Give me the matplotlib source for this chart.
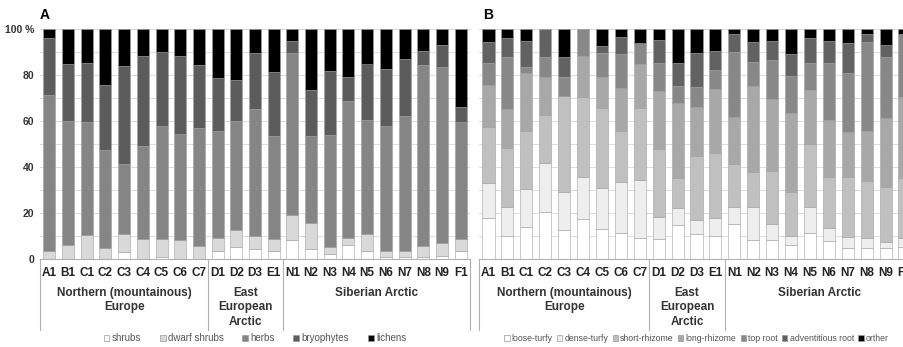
import numpy as np
import matplotlib.pyplot as plt
import matplotlib.transforms as mtransforms
from matplotlib.patches import Patch

plt.rcParams['font.family'] = ['Liberation Sans', 'DejaVu Sans']

sites = ["A1", "B1", "C1", "C2", "C3", "C4", "C5", "C6", "C7",
         "D1", "D2", "D3", "E1",
         "N1", "N2", "N3", "N4", "N5", "N6", "N7", "N8", "N9", "F1"]
groups = ["Northern (mountainous)\nEurope", "East\nEuropean\nArctic", "Siberian Arctic"]
group_sizes = [9, 4, 10]

# panel A: life forms (%)
lf_names = ["shrubs", "dwarf shrubs", "herbs", "bryophytes", "lichens"]
shrubs = [0, 0, 0, 0, 3.2, 0, 1.0, 0, 0, 3.6, 5.1, 4.4, 3.3,
          8.4, 4.4, 2.2, 6.2, 3.6, 1.0, 1.0, 0.7, 1.5, 3.6]
dwarf_shrubs = [3.6, 6.2, 10.5, 4.7, 7.7, 8.7, 7.7, 8.1, 5.8, 5.4, 7.5, 5.8, 5.4,
                10.9, 11.2, 2.9, 3.0, 7.3, 2.6, 2.6, 5.0, 5.3, 5.1]
herbs = [67.9, 53.8, 49.1, 42.5, 30.2, 40.3, 49.0, 46.1, 51.3, 46.7, 47.3, 54.8, 44.6,
         70.1, 37.7, 48.7, 59.4, 49.4, 54.1, 58.5, 78.6, 76.8, 50.9]
bryophytes = [24.5, 24.6, 25.7, 28.4, 42.8, 39.4, 32.1, 34.0, 27.1, 23.2, 17.9, 24.7, 28.1,
              5.5, 20.1, 27.9, 10.6, 24.7, 25.1, 24.7, 6.1, 9.4, 6.4]
lichens = [4.0, 15.4, 14.7, 24.4, 16.1, 11.6, 10.2, 11.8, 15.8, 21.1, 22.2, 10.3, 18.6,
           5.1, 26.6, 18.3, 20.8, 15.0, 17.2, 13.2, 9.6, 7.0, 34.0]

# panel B: root / tillering types (%)
rt_names = ["loose-turfy", "dense-turfy", "short-rhizome", "long-rhizome",
            "top root", "adventitious root", "orther"]
loose_turfy = [18.0, 10.1, 14.1, 20.6, 12.4, 17.2, 13.0, 11.2, 9.0, 8.7, 14.8, 10.7, 10.1,
               15.1, 8.3, 8.3, 6.1, 11.2, 7.8, 4.6, 4.9, 4.9, 5.4]
dense_turfy = [14.9, 12.7, 16.3, 21.0, 16.7, 18.3, 18.0, 22.1, 25.3, 9.7, 7.2, 6.3, 7.9,
               7.7, 14.5, 6.9, 4.0, 11.6, 5.5, 5.1, 4.1, 2.3, 3.6]
short_rhizome = [24.6, 25.3, 25.3, 21.0, 41.7, 35.1, 34.5, 22.4, 31.2, 29.4, 13.1, 27.9, 27.9,
                 18.4, 15.2, 23.2, 18.9, 27.2, 22.5, 25.8, 24.9, 24.0, 26.4]
long_rhizome = [18.2, 17.0, 25.0, 16.7, 0, 17.8, 13.8, 18.5, 19.1, 25.2, 32.6, 21.3, 28.0,
                20.7, 37.2, 31.2, 34.3, 23.5, 24.6, 19.6, 21.8, 30.0, 35.2]
top_root = [9.7, 22.6, 2.9, 8.4, 8.4, 11.6, 10.4, 14.9, 9.2, 12.1, 7.5, 8.7, 8.3,
            28.0, 10.6, 16.9, 16.3, 11.6, 25.0, 25.6, 38.8, 26.8, 27.1]
adventitious = [8.8, 8.2, 11.2, 12.3, 8.7, 0, 3.1, 7.6, 0, 10.1, 10.2, 14.5, 8.4,
                7.8, 8.4, 8.3, 9.5, 11.1, 9.4, 13.1, 3.2, 5.0, 0]
orther = [5.8, 4.1, 5.2, 0, 12.1, 0, 7.2, 3.3, 6.2, 4.8, 14.6, 10.6, 9.4,
          2.3, 5.8, 5.2, 10.9, 3.8, 5.2, 6.2, 2.3, 7.0, 2.3]

lf_colors = ["#ffffff", "#d9d9d9", "#858585", "#5c5c5c", "#000000"]
rt_colors = ["#ffffff", "#eeeeee", "#c0c0c0", "#a8a8a8", "#888888", "#626262", "#000000"]


def stacked(ax, series, colors):
    x = np.arange(len(sites))
    bottom = np.zeros(len(sites))
    for vals, c in zip(series, colors):
        vals = np.array(vals)
        ax.bar(x, vals, 0.64, bottom=bottom, color=c, edgecolor="#a0a0a0", linewidth=0.4, zorder=2)
        bottom += vals
    ax.set_xlim(-0.5, len(sites) - 0.5)
    ax.set_ylim(0, 100)
    ax.set_yticks(np.arange(0, 101, 10))
    ax.yaxis.grid(True, color="#dcdcdc", linewidth=0.7, zorder=0)
    ax.set_axisbelow(True)
    for s in ["top", "right", "left"]:
        ax.spines[s].set_visible(False)
    ax.spines["bottom"].set_color("#b0b0b0")
    ax.spines["bottom"].set_linewidth(0.8)
    ax.set_xticks([])
    ax.tick_params(axis="y", length=0)

    # category box below the axis
    trans = mtransforms.blended_transform_factory(ax.transData, ax.transAxes)
    edges = np.concatenate([[0], np.cumsum(group_sizes)]) - 0.5
    for e in edges:
        ax.plot([e, e], [0, -0.31], transform=trans, color="#b0b0b0", lw=0.8, clip_on=False)
    for i, s in enumerate(sites):
        ax.text(i, -0.062, s, transform=trans, ha="center", va="center",
                fontsize=8.5, fontweight="bold", color="#222222")
    for g, a, b in zip(groups, edges[:-1], edges[1:]):
        ax.text((a + b) / 2, -0.122, g, transform=trans, ha="center", va="top",
                fontsize=8.5, fontweight="bold", color="#333333", linespacing=1.25)


def legend(ax, names, colors, y, size, spacing):
    handles = [Patch(facecolor=c, edgecolor="#999999", linewidth=0.5) for c in colors]
    ax.legend(handles, names, loc="center", bbox_to_anchor=(0.5, y), ncol=len(names),
              frameon=False, fontsize=size, handlelength=0.6, handleheight=0.6,
              handletextpad=0.25, columnspacing=spacing, labelcolor="#555555",
              borderaxespad=0, borderpad=0)


fig = plt.figure(figsize=(9.04, 3.47), dpi=100)
axA = fig.add_axes([40 / 904, 1 - 259 / 347, 430 / 904, 230 / 347])
axB = fig.add_axes([479 / 904, 1 - 259 / 347, 435 / 904, 230 / 347])

stacked(axA, [shrubs, dwarf_shrubs, herbs, bryophytes, lichens], lf_colors)
stacked(axB, [loose_turfy, dense_turfy, short_rhizome, long_rhizome, top_root, adventitious, orther],
        rt_colors)

labels = ["0", "", "20", "", "40", "", "60", "", "80", "", "100 %"]
axA.set_yticklabels(labels, fontsize=7.5, fontweight="bold", color="#333333")
axA.tick_params(axis="y", pad=4)
axB.set_yticklabels([])

legend(axA, lf_names, lf_colors, -0.345, 7.0, 1.9)
legend(axB, rt_names, rt_colors, -0.345, 6.3, 0.5)

axA.text(0.0, 1.03, "A", transform=axA.transAxes, fontsize=10, fontweight="bold", va="bottom")
axB.text(0.01, 1.03, "B", transform=axB.transAxes, fontsize=10, fontweight="bold", va="bottom")

fig.savefig("out.png", dpi=100)
